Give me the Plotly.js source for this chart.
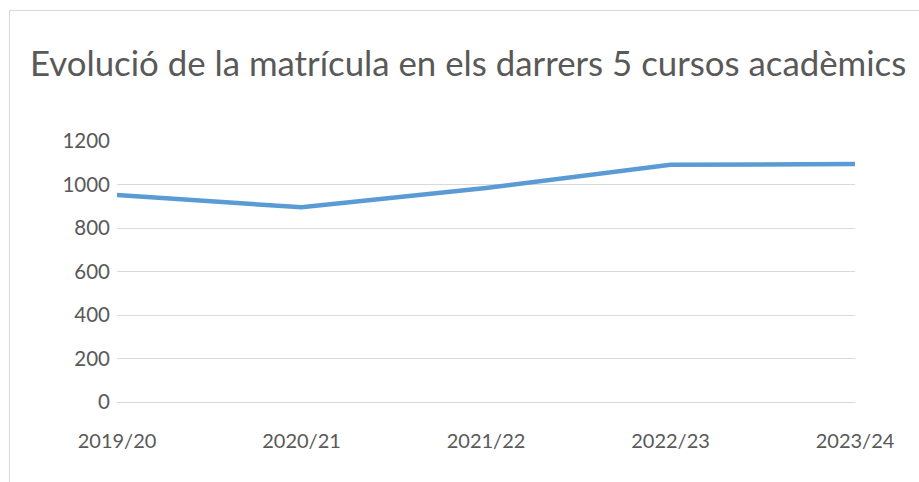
<!DOCTYPE html>
<html>
<head>
<meta charset="utf-8">
<script src="https://cdn.plot.ly/plotly-3.0.1.min.js"></script>
<style>
  html, body { margin: 0; padding: 0; background: #ffffff; }
  #wrap { position: relative; width: 919px; height: 482px; overflow: hidden; }
  #frame { position: absolute; left: 9px; top: 10px; width: 1000px; height: 600px; border: 1px solid #d9d9d9; box-sizing: border-box; }
  #chart { position: absolute; left: 0; top: 0; width: 919px; height: 482px; }
</style>
</head>
<body>
<div id="wrap">
  <div id="frame"></div>
  <div id="chart"></div>
</div>
<script>
const titleText = "Evolució de la matrícula en els darrers 5 cursos acadèmics";
const courses = ["2019/20", "2020/21", "2021/22", "2022/23", "2023/24"];
const enrolment = [952, 895, 984, 1091, 1094];
const yTicks = [0, 200, 400, 600, 800, 1000, 1200];

const font = "Lato, 'Open Sans', sans-serif";
const textColor = "#595959";

const trace = {
  type: "scatter",
  mode: "lines",
  x: courses,
  y: enrolment,
  line: { color: "#5b9bd5", width: 4.5 },
  hoverinfo: "x+y"
};

const layout = {
  width: 919,
  height: 482,
  paper_bgcolor: "rgba(0,0,0,0)",
  plot_bgcolor: "rgba(0,0,0,0)",
  showlegend: false,
  margin: { l: 117, r: 64, t: 141, b: 79.5 },
  title: {
    text: titleText,
    font: { family: font, size: 34.8, color: textColor },
    x: 30 / 919,
    xanchor: "left",
    xref: "container",
    y: 1 - 64 / 482,
    yanchor: "middle",
    yref: "container"
  },
  xaxis: {
    type: "category",
    range: [0, courses.length - 1],
    showgrid: false,
    zeroline: false,
    showline: true,
    linecolor: "#d9d9d9",
    linewidth: 1,
    ticks: "",
    ticklabelstandoff: 21,
    tickfont: { family: font, size: 20, color: textColor }
  },
  yaxis: {
    range: [0, 1200],
    tickvals: yTicks,
    ticktext: yTicks.map(String),
    showgrid: true,
    gridcolor: "#d9d9d9",
    gridwidth: 1,
    zeroline: false,
    showline: false,
    ticks: "",
    ticklabelstandoff: 6,
    tickfont: { family: font, size: 20.5, color: textColor }
  }
};

Plotly.newPlot("chart", [trace], layout, { displayModeBar: false, staticPlot: true });
</script>
</body>
</html>
